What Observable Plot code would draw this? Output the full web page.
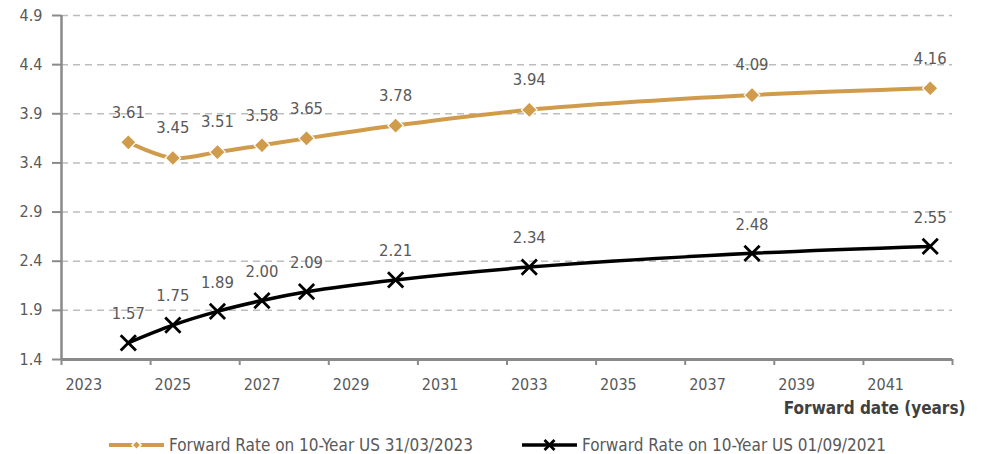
<!DOCTYPE html>
<html>
<head>
<meta charset="utf-8">
<script src="https://cdn.jsdelivr.net/npm/d3@7"></script>
<script src="https://cdn.jsdelivr.net/npm/@observablehq/plot@0.6"></script>
<style>
  body { margin: 0; background: #fff; font-family: "DejaVu Sans Condensed", "DejaVu Sans", sans-serif; }
  #wrap { position: relative; width: 986px; height: 454px; }
  #legend { position: relative; height: 24px; font-size: 17px; color: #595959; }
  .item { position: absolute; top: 0; height: 24px; display: flex; align-items: center; white-space: nowrap; }
  .item svg { margin-right: 5px; }
</style>
</head>
<body>
<div id="wrap">
  <div id="chart"></div>
  <div id="legend"></div>
</div>
<script>
const years = [2024.5, 2025.5, 2026.5, 2027.5, 2028.5, 2030.5, 2033.5, 2038.5, 2042.5];
const rate2023 = [3.61, 3.45, 3.51, 3.58, 3.65, 3.78, 3.94, 4.09, 4.16];
const rate2021 = [1.57, 1.75, 1.89, 2.00, 2.09, 2.21, 2.34, 2.48, 2.55];
const seriesNames = ["Forward Rate on 10-Year US 31/03/2023", "Forward Rate on 10-Year US 01/09/2021"];
const xTickYears = [2023, 2025, 2027, 2029, 2031, 2033, 2035, 2037, 2039, 2041, 2043];
const xLabelYears = [2023, 2025, 2027, 2029, 2031, 2033, 2035, 2037, 2039, 2041];
const yTicks = [1.4, 1.9, 2.4, 2.9, 3.4, 3.9, 4.4, 4.9];
const xTitle = "Forward date (years)";

const gold = "#D09C4C";
const axisGray = "#8a8a8a";
const textGray = "#595959";

const d23 = years.map((x, i) => ({x, y: rate2023[i]}));
const d21 = years.map((x, i) => ({x, y: rate2021[i]}));

const chart = Plot.plot({
  width: 986,
  height: 433,
  marginLeft: 61,
  marginRight: 34,
  marginTop: 15,
  marginBottom: 74,
  style: {fontFamily: '"DejaVu Sans Condensed", "DejaVu Sans", sans-serif', fontSize: "16px", color: textGray, background: "#fff"},
  x: {domain: [2023, 2043]},
  y: {domain: [1.4, 4.9]},
  marks: [
    Plot.gridY(yTicks, {stroke: "#bdbdbd", strokeOpacity: 1, strokeWidth: 1.5, strokeDasharray: "7,5"}),
    Plot.axisY({ticks: yTicks, tickFormat: d3.format(".1f"), tickSize: 9, tickPadding: 10, stroke: axisGray, strokeWidth: 2, fill: textGray, fontSize: 16, label: null}),
    Plot.axisX({ticks: xTickYears, tickSize: 6, tickFormat: () => "", stroke: axisGray, strokeWidth: 2, label: null}),
    Plot.axisX({ticks: xLabelYears.map(d => d + 0.5), tickSize: 0, tickPadding: 19, tickFormat: d => String(Math.round(d - 0.5)), fill: textGray, fontSize: 16, label: null}),
    Plot.ruleX([2023], {stroke: axisGray, strokeWidth: 2.5}),
    Plot.ruleY([1.4], {stroke: axisGray, strokeWidth: 3}),
    Plot.line(d23, {x: "x", y: "y", stroke: gold, strokeWidth: 4, curve: "catmull-rom"}),
    Plot.dot(d23, {x: "x", y: "y", symbol: "diamond2", r: 7, fill: gold, stroke: "white", strokeWidth: 1.2}),
    Plot.line(d21, {x: "x", y: "y", stroke: "black", strokeWidth: 3.5, curve: "catmull-rom"}),
    Plot.dot(d21, {x: "x", y: "y", symbol: "times", r: 7, stroke: "black", strokeWidth: 2.8}),
    Plot.text(d23, {x: "x", y: "y", text: d => d.y.toFixed(2), dy: -30, fill: textGray, fontSize: 16.5}),
    Plot.text(d21, {x: "x", y: "y", text: d => d.y.toFixed(2), dy: -29, fill: textGray, fontSize: 16.5}),
    Plot.text([xTitle], {frameAnchor: "bottom-right", text: d => d, dx: 13, dy: 54, textAnchor: "end", fontWeight: "bold", fill: "#404040", fontSize: 17})
  ]
});
document.getElementById("chart").appendChild(chart);

const legend = document.getElementById("legend");
const swatches = [
  `<svg width="55" height="14"><line x1="0" y1="7" x2="55" y2="7" stroke="${gold}" stroke-width="4"/><path d="M27.5,2.5 L32,7 L27.5,11.5 L23,7 Z" fill="${gold}" stroke="white" stroke-width="1.5"/></svg>`,
  `<svg width="55" height="14"><line x1="0" y1="7" x2="55" y2="7" stroke="black" stroke-width="3.5"/><path d="M22.5,2 L32.5,12 M32.5,2 L22.5,12" stroke="black" stroke-width="2.8"/></svg>`
];
const lefts = [109, 522];
seriesNames.forEach((name, i) => {
  const el = document.createElement("div");
  el.className = "item";
  el.style.left = lefts[i] + "px";
  el.innerHTML = swatches[i] + `<span>${name}</span>`;
  legend.appendChild(el);
});
</script>
</body>
</html>
